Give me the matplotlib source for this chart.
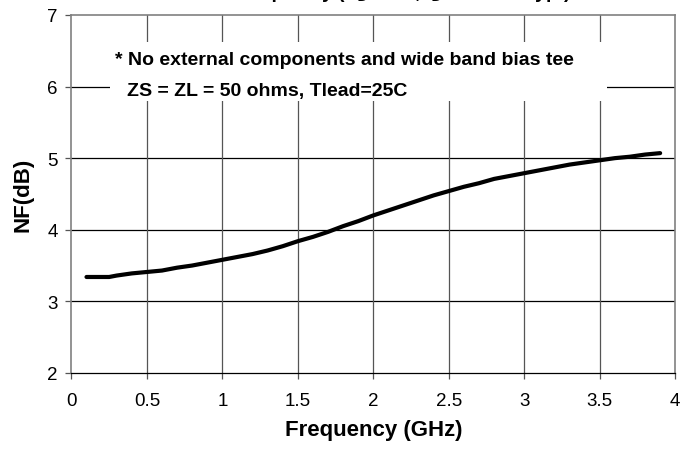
import matplotlib.pyplot as plt

# Noise figure vs frequency
freq_ghz = [0.1, 0.2, 0.25, 0.3, 0.4, 0.5, 0.6, 0.7, 0.8, 0.9, 1.0,
            1.1, 1.2, 1.3, 1.4, 1.5, 1.6, 1.7, 1.8, 1.9, 2.0,
            2.1, 2.2, 2.3, 2.4, 2.5, 2.6, 2.7, 2.8, 2.9, 3.0,
            3.1, 3.2, 3.3, 3.4, 3.5, 3.6, 3.7, 3.8, 3.9]
nf_db = [3.34, 3.34, 3.34, 3.36, 3.39, 3.41, 3.43, 3.47, 3.50, 3.54, 3.58,
         3.62, 3.66, 3.71, 3.77, 3.84, 3.90, 3.97, 4.05, 4.12, 4.20,
         4.27, 4.34, 4.41, 4.48, 4.54, 4.60, 4.65, 4.71, 4.75, 4.79,
         4.83, 4.87, 4.91, 4.94, 4.97, 5.00, 5.02, 5.05, 5.07]

x_ticks = [0, 0.5, 1, 1.5, 2, 2.5, 3, 3.5, 4]
x_labels = ["0", "0.5", "1", "1.5", "2", "2.5", "3", "3.5", "4"]
y_ticks = [2, 3, 4, 5, 6, 7]

note_line1 = "* No external components and wide band bias tee"
note_line2 = "ZS = ZL = 50 ohms, Tlead=25C"
title = "NF vs. Frequency (V$_D$ = 5V, I$_D$ = 60 mA typ.)"

plt.rcParams['font.family'] = ['Liberation Sans', 'DejaVu Sans']

fig = plt.figure(figsize=(6.8, 4.56), dpi=100)
ax = fig.add_axes([0.105, 0.18, 0.888, 0.785])

ax.set_xlim(0, 4)
ax.set_ylim(2, 7)
ax.set_xticks(x_ticks)
ax.set_xticklabels(x_labels)
ax.set_yticks(y_ticks)

# grid: horizontal black, vertical dark gray
for y in y_ticks[1:-1]:
    ax.axhline(y, color='black', lw=0.9, zorder=1)
for x in x_ticks[1:-1]:
    ax.axvline(x, color='#555555', lw=0.9, zorder=1)

for side in ['left', 'top', 'right']:
    ax.spines[side].set_color('#808080')
    ax.spines[side].set_linewidth(1.2)
ax.spines['bottom'].set_color('black')
ax.spines['bottom'].set_linewidth(0.9)

ax.tick_params(axis='both', direction='out', length=4, width=0.9,
               colors='#555555', labelcolor='black', labelsize=13.5)
ax.tick_params(axis='x', pad=10)
ax.tick_params(axis='y', pad=6)

ax.plot(freq_ghz, nf_db, color='black', lw=3, solid_capstyle='round', zorder=3)

# white note box covering the grid
ax.add_patch(plt.Rectangle((0.255, 5.80), 3.295, 0.82, facecolor='white',
                           edgecolor='none', zorder=1.5))
ax.text(0.29, 6.318, note_line1, fontsize=14, fontweight='bold',
        ha='left', va='baseline', zorder=2)
ax.text(0.37, 5.876, note_line2, fontsize=14, fontweight='bold',
        ha='left', va='baseline', zorder=2)

ax.set_xlabel("Frequency (GHz)", fontsize=16, fontweight='bold', labelpad=7)
ax.set_ylabel("NF(dB)", fontsize=16, fontweight='bold', labelpad=10)

# title sits mostly above the canvas, as in the reference
fig.text(0.545, 1.005, title, fontsize=14, fontweight='bold',
         ha='center', va='baseline')

fig.savefig("out.png", dpi=100)
